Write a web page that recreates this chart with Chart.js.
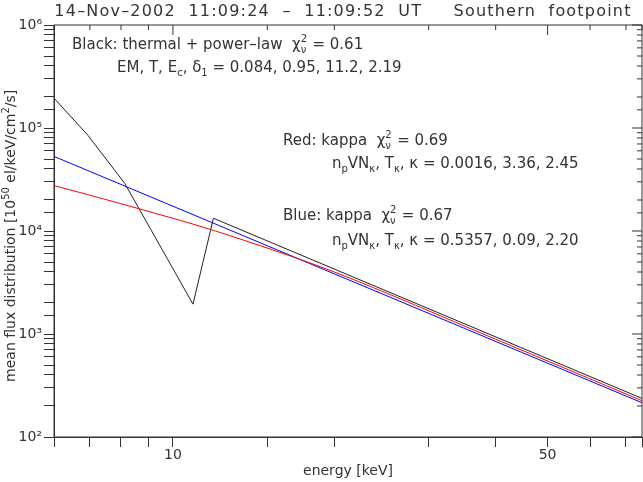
<!DOCTYPE html>
<html><head><meta charset="utf-8">
<script src="https://cdn.jsdelivr.net/npm/chart.js@4/dist/chart.umd.min.js"></script>
<style>body{margin:0;background:#fff}#wrap{width:643px;height:482px}</style>
</head><body><div id="wrap"><canvas id="c"></canvas></div>
<script>
// values (energy keV, flux)
const blackE = [6, 6.94, 8.13, 10.9, 11.9, 75];
const blackF = [1.95e5, 8.5e4, 2.9e4, 1.95e3, 1.33e4, 237];
const redE = [6, 8, 12, 20, 40, 75];
const redF = [2.76e4, 1.84e4, 1.0e4, 4.0e3, 890, 225];
const blueE = [6, 75];
const blueF = [5.3e4, 215];
const xLabels = [10, 50];
const yLabels = {100: '10²', 1000: '10³', 10000: '10⁴', 100000: '10⁵', 1000000: '10⁶'};

const pts = (xs, ys) => xs.map((x, i) => ({x: x, y: ys[i]}));
const F = '"DejaVu Sans", sans-serif';
const ink = '#333';

function sub(ctx, parts, x, y) {
  // parts: [text, mode] mode: 0 normal, 1 sub, 2 sup
  parts.forEach(p => {
    ctx.font = (p[1] ? '10px ' : '15px ') + F;
    const dy = p[1] === 1 ? 4 : p[1] === 2 ? -7 : 0;
    ctx.fillText(p[0], x, y + dy);
    x += ctx.measureText(p[0]).width;
  });
}

const frame = {
  id: 'frame',
  afterDraw(chart) {
    const {ctx, chartArea: a, scales} = chart;
    ctx.save();
    ctx.strokeStyle = ink; ctx.lineWidth = 1;
    ctx.strokeRect(a.left, a.top, a.right - a.left, a.bottom - a.top);
    // mirror ticks
    scales.x.ticks.forEach(t => {
      const px = scales.x.getPixelForValue(t.value);
      const len = xLabels.includes(t.value) ? 10 : 5;
      ctx.beginPath(); ctx.moveTo(px, a.top); ctx.lineTo(px, a.top + len); ctx.stroke();
    });
    scales.y.ticks.forEach(t => {
      const py = scales.y.getPixelForValue(t.value);
      const len = yLabels[t.value] ? 10 : 5;
      ctx.beginPath(); ctx.moveTo(a.right, py); ctx.lineTo(a.right - len, py); ctx.stroke();
    });
    ctx.fillStyle = ink; ctx.textBaseline = 'alphabetic';
    ctx.font = '16px ' + F; ctx.textAlign = 'center';
    ctx.letterSpacing = '1.2px';
    ctx.fillText('14\u2013Nov\u20132002  11:09:24  \u2013  11:09:52  UT     Southern  footpoint', 343, 16);
    ctx.letterSpacing = '0px';
    ctx.textAlign = 'left';
    sub(ctx, [['Black: thermal + power\u2013law  \u03c7', 0], ['2', 2]], 72, 49);
    let w = 72; ctx.font = '15px ' + F; w += ctx.measureText('Black: thermal + power\u2013law  \u03c7').width;
    sub(ctx, [['\u03bd', 1]], w, 49); sub(ctx, [[' = 0.61', 0]], w + 7, 49);
    sub(ctx, [['EM, T, E', 0], ['c', 1], [', \u03b4', 0], ['1', 1], [' = 0.084, 0.95, 11.2, 2.19', 0]], 117, 72);
    const red = [[283, 145, 'Red: kappa  \u03c7', ' = 0.69'], [283, 220, 'Blue: kappa  \u03c7', ' = 0.67']];
    red.forEach(r => {
      sub(ctx, [[r[2], 0]], r[0], r[1]);
      ctx.font = '15px ' + F; const x2 = r[0] + ctx.measureText(r[2]).width;
      sub(ctx, [['2', 2]], x2, r[1]); sub(ctx, [['\u03bd', 1]], x2, r[1]); sub(ctx, [[r[3], 0]], x2 + 7, r[1]);
    });
    sub(ctx, [['n', 0], ['p', 1], ['VN', 0], ['\u03ba', 1], [', T', 0], ['\u03ba', 1], [', \u03ba = 0.0016, 3.36, 2.45', 0]], 332, 168);
    sub(ctx, [['n', 0], ['p', 1], ['VN', 0], ['\u03ba', 1], [', T', 0], ['\u03ba', 1], [', \u03ba = 0.5357, 0.09, 2.20', 0]], 332, 245);
    // y title
    ctx.save(); ctx.translate(15, 232); ctx.rotate(-Math.PI / 2);
    ctx.font = '14px ' + F; ctx.textAlign = 'left';
    const t1 = 'mean flux distribution [10', t2 = ' el/keV/cm', t3 = '/s]';
    let x0 = -ctx.measureText(t1 + '50' + t2 + '2' + t3).width / 2;
    const seq = [[t1, 0], ['50', 2], [t2, 0], ['2', 2], [t3, 0]];
    seq.forEach(p => {
      ctx.font = (p[1] ? '10px ' : '14px ') + F;
      ctx.fillText(p[0], x0, p[1] ? -6 : 0); x0 += ctx.measureText(p[0]).width;
    });
    ctx.restore();
    ctx.restore();
  }
};

new Chart(document.getElementById('c'), {
  type: 'scatter',
  data: {datasets: [
    {data: pts(redE, redF), borderColor: '#f00', showLine: true, tension: 0.3, pointRadius: 0, borderWidth: 1},
    {data: pts(blueE, blueF), borderColor: '#00f', showLine: true, pointRadius: 0, borderWidth: 1},
    {data: pts(blackE, blackF), borderColor: '#222', showLine: true, pointRadius: 0, borderWidth: 1}
  ]},
  plugins: [frame],
  options: {
    animation: false, responsive: true, maintainAspectRatio: false,
    layout: {padding: {top: 25, right: 1, left: 0, bottom: 2}},
    plugins: {legend: {display: false}, tooltip: {enabled: false}},
    scales: {
      x: {type: 'logarithmic', min: 6, max: 75,
        title: {display: true, text: 'energy [keV]', color: ink, font: {family: F, size: 14}, padding: 0},
        grid: {drawOnChartArea: false, tickLength: 10, color: ink},
        border: {color: ink},
        afterFit: s => { s.height = 43; },
        ticks: {color: ink, font: {family: F, size: 14}, maxRotation: 0, autoSkip: false, padding: 0,
          callback: v => xLabels.includes(v) ? String(v) : ''}},
      y: {type: 'logarithmic', min: 100, max: 1e6,
        grid: {drawOnChartArea: false, tickLength: 10, color: ink},
        border: {color: ink},
        afterFit: s => { s.width = 54; },
        ticks: {color: ink, font: {family: F, size: 14}, autoSkip: false, padding: 2,
          callback: v => yLabels[v] || ''}}
    }
  }
});
</script></body></html>
